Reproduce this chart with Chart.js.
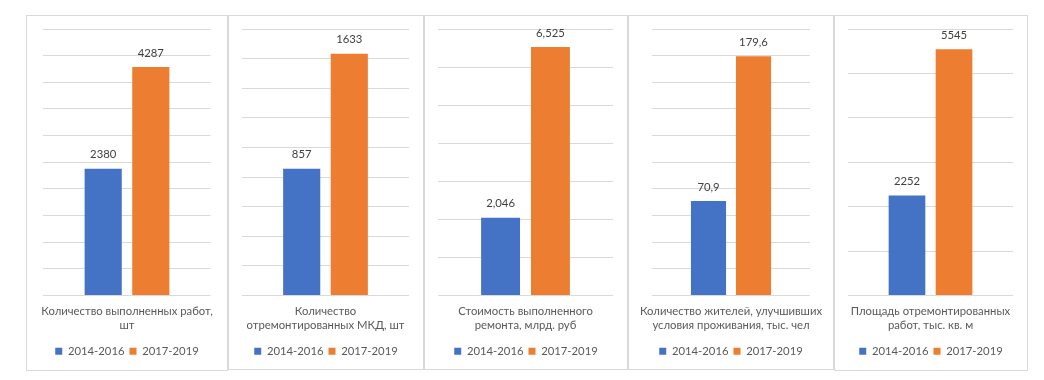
<!DOCTYPE html>
<html>
<head>
<meta charset="utf-8">
<script src="https://cdn.jsdelivr.net/npm/chart.js@4.4.1/dist/chart.umd.min.js"></script>
<style>
  body { margin: 0; background: #ffffff; width: 1044px; height: 380px; position: relative; overflow: hidden; }
  .panel { position: absolute; top: 15px; border: 1px solid #d9d9d9; background: #fff; box-sizing: border-box; }
  .panel canvas { display: block; }
</style>
</head>
<body>
<div class="panel" style="left:26px;width:202px;height:356px"><canvas id="c0" width="200" height="354"></canvas></div>
<div class="panel" style="left:228px;width:196px;height:355px"><canvas id="c1" width="194" height="353"></canvas></div>
<div class="panel" style="left:424px;width:204px;height:355px"><canvas id="c2" width="202" height="353"></canvas></div>
<div class="panel" style="left:628px;width:206px;height:355px"><canvas id="c3" width="204" height="353"></canvas></div>
<div class="panel" style="left:834px;width:194px;height:356px"><canvas id="c4" width="192" height="354"></canvas></div>
<script>
// data
const seriesNames = ["2014-2016", "2017-2019"];
const panelTitles = [
  ["Количество выполненных работ,", "шт"],
  ["Количество", "отремонтированных МКД, шт"],
  ["Стоимость выполненного", "ремонта, млрд. руб"],
  ["Количество жителей, улучшивших", "условия проживания, тыс. чел"],
  ["Площадь отремонтированных", "работ, тыс. кв. м"],
];
const values2014 = [2380, 857, 2.046, 70.9, 2252];
const values2017 = [4287, 1633, 6.525, 179.6, 5545];
const axisMax = [5000, 1800, 7, 200, 6000];
const axisStep = [500, 200, 1, 20, 1000];
const valueDecimals = [0, 0, 3, 1, 0];

const fontFamily = "Lato, 'Liberation Sans', sans-serif";
const fontSize = 11.3;

// value labels above bars
const valueLabels = {
  id: "valueLabels",
  afterDatasetsDraw(chart, args, opts) {
    const ctx = chart.ctx;
    ctx.save();
    ctx.font = fontSize + "px " + fontFamily;
    ctx.fillStyle = "#404040";
    ctx.textAlign = "center";
    ctx.textBaseline = "middle";
    chart.data.datasets.forEach((ds, i) => {
      chart.getDatasetMeta(i).data.forEach((bar, j) => {
        const txt = ds.data[j].toFixed(opts.decimals).replace(".", ",");
        ctx.fillText(txt, bar.x, bar.y - 14);
      });
    });
    ctx.restore();
  },
};

for (let i = 0; i < 5; i++) {
  const canvas = document.getElementById("c" + i);
  new Chart(canvas.getContext("2d"), {
    type: "bar",
    data: {
      labels: [panelTitles[i]],
      datasets: [
        { label: seriesNames[0], data: [values2014[i]], backgroundColor: "#4472c4" },
        { label: seriesNames[1], data: [values2017[i]], backgroundColor: "#ed7d31" },
      ],
    },
    options: {
      responsive: false,
      animation: false,
      categoryPercentage: 0.57,
      barPercentage: 0.78,
      layout: { padding: { left: 0, right: 0, top: 13, bottom: canvas.height - 351 } },
      scales: {
        x: {
          grid: { display: false, drawTicks: false },
          border: { display: false },
          ticks: { color: "#595959", padding: 9, font: { family: fontFamily, size: fontSize } },
        },
        y: {
          min: 0,
          max: axisMax[i],
          ticks: { display: false, stepSize: axisStep[i] },
          grid: { color: "#d9d9d9", drawTicks: false },
          border: { display: false },
          afterFit(scale) { scale.width = 13; },
        },
        yRight: {
          type: "linear",
          position: "right",
          ticks: { display: false },
          grid: { display: false, drawTicks: false },
          border: { display: false },
          afterFit(scale) { scale.width = 14; },
        },
      },
      plugins: {
        legend: {
          position: "bottom",
          labels: {
            color: "#595959",
            boxWidth: 7,
            boxHeight: 7,
            padding: 5,
            font: { family: fontFamily, size: fontSize },
          },
        },
        tooltip: { enabled: false },
        valueLabels: { decimals: valueDecimals[i] },
      },
    },
    plugins: [valueLabels],
  });
}
</script>
</body>
</html>
